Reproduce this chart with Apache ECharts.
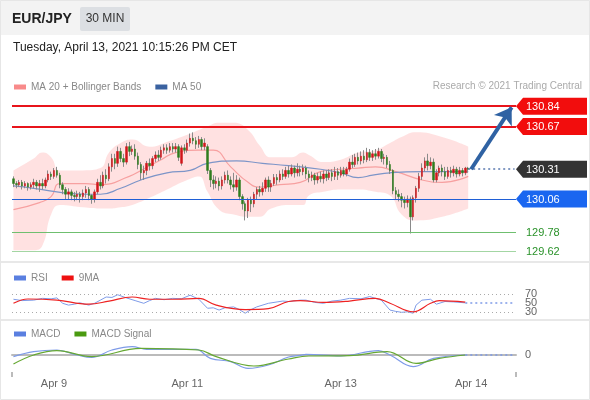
<!DOCTYPE html>
<html><head><meta charset="utf-8">
<script src="https://cdn.jsdelivr.net/npm/echarts@6/dist/echarts.min.js"></script>
<style>html,body{margin:0;padding:0;background:#fff}#c{width:590px;height:400px}</style>
</head><body><div id="c"></div>
<script>
// ---------- data ----------
const candles = [ // [open, close, low, high]
[130.23,130.19,130.16,130.25],[130.19,130.18,130.15,130.21],[130.18,130.20,130.16,130.22],[130.20,130.17,130.14,130.22],
[130.17,130.19,130.15,130.21],[130.19,130.16,130.13,130.20],[130.16,130.18,130.14,130.20],[130.18,130.20,130.15,130.23],
[130.20,130.17,130.14,130.22],[130.17,130.19,130.12,130.22],[130.19,130.17,130.14,130.23],[130.17,130.22,130.15,130.24],
[130.22,130.27,130.20,130.30],[130.27,130.25,130.22,130.29],[130.25,130.30,130.23,130.32],[130.30,130.26,130.24,130.33],
[130.26,130.18,130.15,130.28],[130.18,130.14,130.10,130.20],[130.14,130.10,130.06,130.16],[130.10,130.12,130.06,130.15],
[130.12,130.09,130.05,130.14],[130.09,130.08,130.04,130.12],[130.08,130.10,130.05,130.13],[130.10,130.08,130.03,130.12],
[130.08,130.11,130.05,130.14],[130.11,130.14,130.07,130.17],[130.14,130.09,130.05,130.16],[130.09,130.06,130.02,130.10],
[130.06,130.12,130.03,130.14],[130.12,130.20,130.10,130.23],[130.20,130.17,130.14,130.26],[130.17,130.26,130.15,130.29],
[130.26,130.23,130.19,130.31],[130.23,130.33,130.21,130.36],[130.33,130.40,130.29,130.44],[130.40,130.36,130.31,130.44],
[130.36,130.46,130.33,130.50],[130.46,130.40,130.37,130.49],[130.40,130.37,130.33,130.44],[130.37,130.50,130.35,130.53],
[130.50,130.46,130.42,130.54],[130.46,130.48,130.43,130.51],[130.48,130.42,130.39,130.52],[130.42,130.35,130.31,130.45],
[130.35,130.28,130.22,130.37],[130.28,130.30,130.22,130.34],[130.30,130.36,130.26,130.38],[130.36,130.34,130.30,130.40],
[130.34,130.40,130.31,130.42],[130.40,130.43,130.37,130.46],[130.43,130.41,130.38,130.47],[130.41,130.47,130.39,130.50],
[130.47,130.49,130.44,130.52],[130.49,130.47,130.44,130.52],[130.47,130.50,130.45,130.53],[130.50,130.48,130.45,130.53],
[130.48,130.50,130.45,130.53],[130.50,130.41,130.38,130.52],[130.36,130.49,130.34,130.51],[130.49,130.47,130.44,130.52],
[130.47,130.53,130.45,130.56],[130.53,130.57,130.50,130.61],[130.57,130.55,130.52,130.62],[130.55,130.52,130.48,130.58],
[130.52,130.56,130.49,130.59],[130.56,130.50,130.47,130.58],[130.50,130.53,130.47,130.57],[130.50,130.30,130.27,130.52],
[130.30,130.22,130.16,130.32],[130.22,130.19,130.14,130.26],[130.19,130.21,130.15,130.25],[130.21,130.17,130.13,130.24],
[130.17,130.22,130.14,130.25],[130.22,130.26,130.19,130.29],[130.26,130.22,130.19,130.30],[130.22,130.18,130.14,130.25],
[130.18,130.16,130.12,130.28],[130.16,130.22,130.13,130.26],[130.22,130.08,130.05,130.24],[130.08,130.02,129.97,130.10],
[130.02,129.96,129.88,130.04],[129.96,130.05,129.90,130.07],[130.05,130.02,129.95,130.08],[130.02,130.10,129.99,130.12],
[130.10,130.14,130.06,130.16],[130.14,130.12,130.08,130.17],[130.12,130.15,130.09,130.20],[130.15,130.22,130.12,130.24],
[130.22,130.16,130.12,130.25],[130.16,130.19,130.12,130.22],[130.19,130.24,130.17,130.27],[130.24,130.22,130.18,130.27],
[130.22,130.27,130.20,130.30],[130.27,130.25,130.22,130.31],[130.25,130.30,130.23,130.33],[130.30,130.27,130.24,130.34],
[130.27,130.32,130.25,130.35],[130.32,130.28,130.24,130.34],[130.28,130.31,130.25,130.36],[130.31,130.29,130.25,130.34],
[130.29,130.32,130.26,130.35],[130.32,130.27,130.23,130.34],[130.27,130.24,130.20,130.30],[130.24,130.26,130.21,130.29],
[130.26,130.22,130.18,130.28],[130.22,130.25,130.19,130.28],[130.25,130.23,130.20,130.29],[130.23,130.27,130.19,130.30],
[130.27,130.24,130.21,130.30],[130.24,130.28,130.22,130.31],[130.28,130.25,130.21,130.31],[130.25,130.29,130.22,130.33],
[130.29,130.26,130.22,130.32],[130.26,130.30,130.24,130.33],[130.30,130.27,130.25,130.33],[130.27,130.31,130.25,130.33],
[130.31,130.37,130.29,130.40],[130.37,130.35,130.32,130.43],[130.35,130.41,130.33,130.44],[130.41,130.38,130.35,130.45],
[130.38,130.42,130.35,130.46],[130.42,130.39,130.36,130.47],[130.39,130.45,130.37,130.49],[130.45,130.41,130.38,130.48],
[130.41,130.44,130.38,130.47],[130.44,130.42,130.39,130.48],[130.42,130.46,130.40,130.49],[130.46,130.40,130.37,130.48],
[130.40,130.41,130.35,130.44],[130.41,130.35,130.32,130.43],[130.35,130.30,130.27,130.38],[130.30,130.13,130.10,130.31],
[130.13,130.10,130.06,130.16],[130.10,130.08,130.04,130.14],[130.08,130.05,129.99,130.11],[130.05,130.03,129.98,130.08],
[130.03,130.06,129.99,130.09],[130.06,129.91,129.77,130.08],[129.91,130.07,129.88,130.09],[130.07,130.15,130.03,130.17],
[130.15,130.25,130.12,130.28],[130.25,130.32,130.22,130.36],[130.32,130.38,130.29,130.41],[130.38,130.34,130.30,130.44],
[130.34,130.37,130.31,130.41],[130.37,130.22,130.20,130.40],[130.22,130.28,130.20,130.31],[130.28,130.32,130.25,130.34],
[130.32,130.29,130.25,130.35],[130.29,130.25,130.22,130.33],[130.25,130.30,130.23,130.33],[130.30,130.28,130.24,130.33],
[130.28,130.31,130.25,130.34],[130.31,130.27,130.24,130.33],[130.27,130.30,130.25,130.33],[130.30,130.28,130.25,130.32],
[130.28,130.32,130.26,130.33],[130.32,130.31,130.28,130.33]
];
const bbUpper = [[0,130.30],[7,130.40],[10,130.45],[13,130.41],[16,130.30],[24,130.30],[30,130.32],[33,130.45],[37,130.53],[41,130.56],[47,130.50],[53,130.54],[60,130.60],[64,130.64],[67,130.67],[71,130.70],[76,130.70],[81,130.64],[85,130.51],[89,130.41],[96,130.41],[100,130.45],[102,130.43],[107,130.37],[113,130.39],[119,130.45],[125,130.47],[130,130.53],[134,130.58],[139,130.62],[148,130.58],[157,130.50]];
const bbLower = [[0,129.63],[7,129.63],[10,129.67],[13,129.93],[16,130.01],[24,129.99],[30,129.98],[33,129.98],[37,129.99],[41,130.01],[47,130.07],[53,130.14],[60,130.22],[64,130.25],[67,130.12],[71,129.97],[76,129.93],[81,129.91],[85,129.91],[89,129.98],[96,130.01],[100,130.01],[102,130.09],[107,130.12],[113,130.14],[119,130.14],[125,130.12],[130,130.09],[134,129.93],[139,129.88],[148,129.91],[157,129.98]];
const ma20 = [[0,129.97],[9,130.03],[13,130.08],[16,130.19],[25,130.19],[30,130.18],[40,130.25],[44,130.30],[51,130.39],[56,130.45],[64,130.47],[69,130.47],[75,130.33],[81,130.20],[85,130.16],[92,130.18],[99,130.20],[106,130.29],[113,130.31],[119,130.32],[125,130.33],[132,130.29],[141,130.22],[148,130.20],[157,130.25]];
const ma50 = [[0,130.17],[7,130.15],[18,130.11],[25,130.10],[30,130.10],[37,130.15],[44,130.22],[53,130.28],[61,130.30],[67,130.36],[77,130.38],[86,130.36],[95,130.34],[106,130.31],[113,130.28],[119,130.24],[124,130.26],[130,130.28],[141,130.29],[157,130.29]];
const rsi = [[0,59],[3,56],[7,57],[10,61],[13,60],[15,62],[17,50],[19,46],[21,48],[23,51],[26,46],[28,50],[30,57],[32,64],[34,63],[36,69],[39,62],[42,56],[45,50],[47,56],[49,61],[52,58],[55,61],[58,60],[61,68],[64,59],[67,39],[69,40],[71,35],[73,40],[76,42],[78,36],[80,28],[82,36],[84,42],[88,50],[91,53],[93,55],[95,54],[99,57],[101,57],[104,52],[107,50],[110,55],[113,57],[116,61],[120,60],[123,65],[127,57],[130,35],[132,32],[134,30],[136,31],[138,28],[139,46],[141,57],[144,59],[146,48],[149,54],[152,53],[156,51]];
const rsiMa = [[0,50],[5,59.6],[15,57],[26,48],[33,55],[41,64],[47,59],[56,59],[64,61],[70,46],[80,36],[88,38],[95,54],[99,56],[107,52],[116,55],[125,61],[130,50],[138,31],[144,50],[147,56],[156,52.6]];
const macd = [[0,-0.008],[7,0.017],[15,0.025],[22,0],[27,-0.012],[34,0.025],[41,0.042],[46,0.028],[55,0.028],[63,0.028],[68,-0.017],[75,-0.033],[81,-0.067],[88,-0.05],[95,-0.01],[99,-0.002],[101,0.003],[113,-0.005],[126,0.022],[130,0],[138,-0.058],[145,-0.017],[156,0]];
const macdSignal = [[0,-0.045],[7,0],[15,0.022],[27,-0.008],[44,0.033],[64,0.025],[70,-0.008],[83,-0.055],[95,-0.02],[102,-0.005],[116,-0.003],[129,0.017],[139,-0.042],[147,-0.017],[156,0]];
const tickIdx = [14, 60, 113, 158];
const tickLabels = ['Apr 9', 'Apr 11', 'Apr 13', 'Apr 14'];
const resistances = [130.84, 130.67];
const lastPrice = 130.31;
const pivot = 130.06;
const supports = [129.78, 129.62];
const arrowTarget = 130.83;
const rsiLevels = [70, 50, 30];
const totalSlots = 174;

// ---------- build ----------
const FONT = 'Liberation Sans, Arial, sans-serif';
const categories = Array.from({length: totalSlots}, (_, i) => String(i));
const bodies = candles.map(([o, c]) => [o, c, Math.min(o, c), Math.max(o, c)]);
const bbDiff = bbUpper.map(([i, u], k) => [i, +(u - bbLower[k][1]).toFixed(4)]);
const lastIdx = candles.length - 1;
const lastRsi = rsi[rsi.length - 1];
const lastMacd = macd[macd.length - 1];

const chart = echarts.init(document.getElementById('c'), null, {renderer: 'canvas'});
const legendBase = {icon: 'rect', itemWidth: 12, itemHeight: 5, itemGap: 14, padding: 5,
  textStyle: {color: '#888', fontSize: 10, fontFamily: FONT}, selectedMode: false};
const xBase = {type: 'category', data: categories, boundaryGap: true};

chart.setOption({
  animation: false,
  textStyle: {fontFamily: FONT},
  legend: [
    Object.assign({}, legendBase, {data: ['MA 20 + Bollinger Bands', 'MA 50'], left: 9, top: 77}),
    Object.assign({}, legendBase, {data: ['RSI', '9MA'], left: 9, top: 268}),
    Object.assign({}, legendBase, {data: ['MACD', 'MACD Signal'], left: 9, top: 324})
  ],
  grid: [
    {left: 12, right: 74, top: 93.09, height: 172.55},
    {left: 12, right: 74, top: 285.3, height: 36},
    {left: 12, right: 74, top: 338, height: 34}
  ],
  xAxis: [
    Object.assign({}, xBase, {gridIndex: 0, show: false}),
    Object.assign({}, xBase, {gridIndex: 1, show: false}),
    Object.assign({}, xBase, {gridIndex: 2,
      axisLine: {show: true, lineStyle: {color: '#bbb', width: 2}},
      axisTick: {show: false},
      axisLabel: {show: true, color: '#666', fontSize: 11, margin: 6,
        interval: (i) => tickIdx.indexOf(i) >= 0,
        formatter: (v, i) => { const k = tickIdx.indexOf(i); return k >= 0 ? tickLabels[k] : ''; }}
    })
  ],
  yAxis: [
    {gridIndex: 0, type: 'value', min: 129.5, max: 130.95, show: false, splitLine: {show: false}},
    {gridIndex: 1, type: 'value', min: 10, max: 90, interval: 20, position: 'right',
      axisLine: {show: false}, axisTick: {show: false}, splitLine: {show: false},
      axisLabel: {color: '#666', fontSize: 11, margin: 9,
        formatter: (v) => rsiLevels.indexOf(Math.round(v)) >= 0 ? String(Math.round(v)) : ''}},
    {gridIndex: 2, type: 'value', min: -0.085, max: 0.085, interval: 0.085, position: 'right',
      axisLine: {show: false}, axisTick: {show: false}, splitLine: {show: false},
      axisLabel: {color: '#666', fontSize: 11, margin: 9,
        formatter: (v) => Math.abs(v) < 1e-9 ? '0' : ''}}
  ],
  series: [
    {name: 'bbLow', type: 'line', data: bbLower, stack: 'bb', smooth: 0.5, symbol: 'none',
      lineStyle: {opacity: 0}, z: 1, silent: true},
    {name: 'bbBand', type: 'line', data: bbDiff, stack: 'bb', smooth: 0.5, symbol: 'none',
      lineStyle: {opacity: 0}, areaStyle: {color: '#ffdcdc', opacity: 0.85}, z: 1, silent: true},
    {name: 'MA 20 + Bollinger Bands', type: 'line', data: ma20, smooth: 0.5, symbol: 'none',
      color: '#f88a8a', lineStyle: {color: '#f7a0a0', width: 1.2}, z: 2},
    {name: 'MA 50', type: 'line', data: ma50, smooth: 0.5, symbol: 'none',
      color: '#3a62a0', lineStyle: {color: '#7d95c8', width: 1.2}, z: 2},
    {name: 'wicks', type: 'candlestick', data: candles, barWidth: 1, z: 3,
      itemStyle: {color: '#8a8a8a', color0: '#8a8a8a', borderColor: '#8a8a8a', borderColor0: '#8a8a8a', borderWidth: 1}},
    {name: 'bodies', type: 'candlestick', data: bodies, barWidth: 2, z: 4,
      itemStyle: {color: '#d0161b', color0: '#2f7d1e', borderColor: '#d0161b', borderColor0: '#2f7d1e', borderWidth: 0.5},
      markLine: {silent: true, symbol: ['none', 'none'], label: {show: false}, animation: false,
        data: [
          {yAxis: resistances[0], lineStyle: {color: '#e8141b', width: 2, type: 'solid'}},
          {yAxis: resistances[1], lineStyle: {color: '#e8141b', width: 2, type: 'solid'}},
          {yAxis: pivot, lineStyle: {color: '#1f5fd6', width: 1, type: 'solid'}},
          {yAxis: supports[0], lineStyle: {color: '#6fbf6f', width: 1, type: 'solid'}},
          {yAxis: supports[1], lineStyle: {color: '#a3d6a3', width: 1, type: 'solid'}},
          [{coord: [lastIdx, lastPrice], lineStyle: {color: '#5a79b0', width: 1.5, type: [2, 3]}},
           {coord: [totalSlots - 1, lastPrice]}],
          [{coord: [lastIdx + 1, lastPrice], symbol: 'none', lineStyle: {color: '#2f62a3', width: 4, type: 'solid'}},
           {coord: [totalSlots - 2, arrowTarget], symbol: 'arrow', symbolSize: 16}]
        ]}},
    {name: 'RSI', type: 'line', xAxisIndex: 1, yAxisIndex: 1, data: rsi, symbol: 'none',
      color: '#5a7fe0', lineStyle: {color: '#7e9be8', width: 1}, z: 3,
      markLine: {silent: true, symbol: ['none', 'none'], label: {show: false},
        data: [
          {yAxis: rsiLevels[0], lineStyle: {color: '#aaa', width: 1, type: [1, 3]}},
          {yAxis: rsiLevels[2], lineStyle: {color: '#aaa', width: 1, type: [1, 3]}},
          [{coord: [lastRsi[0], lastRsi[1]], lineStyle: {color: '#7e9be8', width: 1.5, type: [2, 3]}},
           {coord: [totalSlots - 1, lastRsi[1]]}]
        ]}},
    {name: '9MA', type: 'line', xAxisIndex: 1, yAxisIndex: 1, data: rsiMa, smooth: 0.4, symbol: 'none',
      color: '#ee1111', lineStyle: {color: '#ee2222', width: 1.2}, z: 4},
    {name: 'MACD', type: 'line', xAxisIndex: 2, yAxisIndex: 2, data: macd, smooth: 0.4, symbol: 'none',
      color: '#5a7fe0', lineStyle: {color: '#7e9be8', width: 1.2}, z: 3,
      markLine: {silent: true, symbol: ['none', 'none'], label: {show: false},
        data: [[{coord: [lastMacd[0], lastMacd[1]], lineStyle: {color: '#7e9be8', width: 1.5, type: [2, 3]}},
                {coord: [totalSlots - 1, lastMacd[1]]}]]}},
    {name: 'MACD Signal', type: 'line', xAxisIndex: 2, yAxisIndex: 2, data: macdSignal, smooth: 0.4, symbol: 'none',
      color: '#4a9a10', lineStyle: {color: '#66a833', width: 1.2}, z: 4}
  ]
});

// ---------- decorations (positions from the chart's own scales) ----------
const yOf = (v) => chart.convertToPixel({yAxisIndex: 0}, v);
const g = [];
g.push({type: 'rect', shape: {x: 0, y: 0, width: 590, height: 35}, style: {fill: '#f3f3f3'}, z: -1});
g.push({type: 'text', x: 12, y: 19, style: {text: 'EUR/JPY', font: 'bold 14px ' + FONT, fill: '#222', verticalAlign: 'middle', textVerticalAlign: 'middle'}});
g.push({type: 'rect', shape: {x: 80, y: 7, width: 50, height: 24, r: 2}, style: {fill: '#dcdfe3'}});
g.push({type: 'text', x: 105, y: 19, style: {text: '30 MIN', font: '12px ' + FONT, fill: '#333', align: 'center', textAlign: 'center', verticalAlign: 'middle', textVerticalAlign: 'middle'}});
g.push({type: 'text', x: 13, y: 48, style: {text: 'Tuesday, April 13, 2021 10:15:26 PM CET', font: '12px ' + FONT, fill: '#222', verticalAlign: 'middle', textVerticalAlign: 'middle'}});
g.push({type: 'text', x: 582, y: 86, style: {text: 'Research \u00a9 2021 Trading Central', font: '10px ' + FONT, fill: '#aaa', align: 'right', textAlign: 'right', verticalAlign: 'middle', textVerticalAlign: 'middle'}});
// separators / frame
[262, 320].forEach(y => g.push({type: 'line', shape: {x1: 0, y1: y, x2: 590, y2: y}, style: {stroke: '#e8e8e8', lineWidth: 2}}));
g.push({type: 'rect', shape: {x: 0.5, y: 0.5, width: 589, height: 399}, style: {fill: 'none', stroke: '#e6e6e6', lineWidth: 1}});
// axis end ticks
[12, 516].forEach(x => g.push({type: 'line', shape: {x1: x, y1: 372, x2: x, y2: 377}, style: {stroke: '#bbb', lineWidth: 2}}));
// price tags
function tag(v, bg) {
  const y = yOf(v);
  g.push({type: 'polygon', shape: {points: [[516, y], [523, y - 8.5], [587, y - 8.5], [587, y + 8.5], [523, y + 8.5]]}, style: {fill: bg}});
  g.push({type: 'text', x: 526, y: y + 0.5, style: {text: v.toFixed(2), font: '11px ' + FONT, fill: '#fff', verticalAlign: 'middle', textVerticalAlign: 'middle'}});
}
resistances.forEach(v => tag(v, '#f20d0d'));
tag(lastPrice, '#333333');
tag(pivot, '#1a66f0');
supports.forEach(v => g.push({type: 'text', x: 526, y: yOf(v) + 0.5, style: {text: v.toFixed(2), font: '11px ' + FONT, fill: '#2a922a', verticalAlign: 'middle', textVerticalAlign: 'middle'}}));
chart.setOption({graphic: g});
</script>
</body></html>
